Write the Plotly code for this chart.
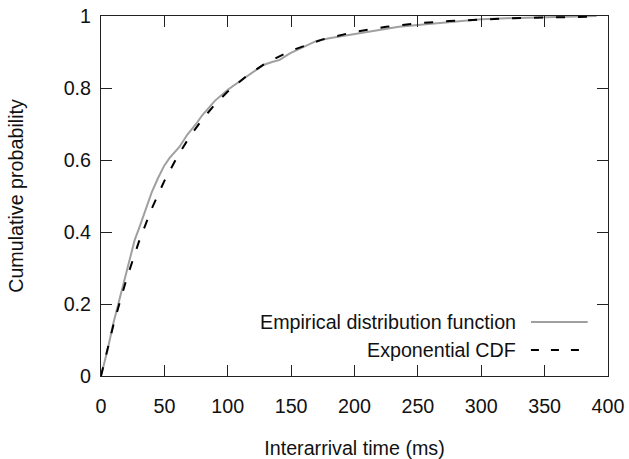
import plotly.graph_objects as go

# Empirical distribution function
emp_x = [0, 5, 10, 15, 20, 26.6, 30, 35, 40, 45, 50, 54, 58, 62, 68, 75, 80, 90,
         100, 110, 120, 128, 135, 141, 149, 160, 170, 180, 196, 202, 220, 235,
         250, 265, 283, 300, 320, 340, 360, 375, 391]
emp_y = [0, 0.07, 0.15, 0.22, 0.29, 0.378, 0.41, 0.46, 0.51, 0.55, 0.585, 0.605,
         0.62, 0.637, 0.67, 0.70, 0.725, 0.765, 0.795, 0.82, 0.845, 0.864, 0.872,
         0.878, 0.896, 0.915, 0.931, 0.938, 0.947, 0.952, 0.962, 0.970, 0.975,
         0.980, 0.985, 0.991, 0.994, 0.996, 0.998, 0.999, 1.0]

# Exponential CDF
exp_x = [0, 10, 20, 30, 40, 50, 60, 70, 80, 90, 100, 115, 130, 150, 175, 200,
         225, 250, 275, 300, 325, 350, 390]
exp_y = [0, 0.145, 0.268, 0.374, 0.465, 0.542, 0.608, 0.665, 0.713, 0.755, 0.790,
         0.834, 0.869, 0.904, 0.935, 0.956, 0.970, 0.980, 0.986, 0.991, 0.994,
         0.996, 0.998]

x_ticks = [0, 50, 100, 150, 200, 250, 300, 350, 400]
y_ticks = [0, 0.2, 0.4, 0.6, 0.8, 1]
y_tick_labels = ["0", "0.2", "0.4", "0.6", "0.8", "1"]

legend_names = ["Empirical distribution function", "Exponential CDF"]

FONT = "Liberation Sans, Arial, sans-serif"
FS = 19.7
GRAY = "#a0a0a0"
AXC = "#222"

fig = go.Figure()
fig.add_trace(go.Scatter(x=emp_x, y=emp_y, mode="lines", name=legend_names[0],
                         line=dict(color=GRAY, width=2), showlegend=False))
fig.add_trace(go.Scatter(x=exp_x, y=exp_y, mode="lines", name=legend_names[1],
                         line=dict(color="black", width=2, dash="9px,13px"),
                         showlegend=False))

axis_common = dict(showgrid=False, zeroline=False, showline=True, mirror="ticks",
                   linecolor=AXC, linewidth=1, ticks="inside", ticklen=11,
                   tickcolor=AXC, tickwidth=1, automargin=False,
                   tickfont=dict(family=FONT, size=FS, color="#111"))

fig.update_xaxes(range=[0, 400], tickvals=x_ticks, ticklabelstandoff=12,
                 title=dict(text="Interarrival time (ms)", standoff=29,
                            font=dict(family=FONT, size=FS, color="#111")),
                 **axis_common)
fig.update_yaxes(range=[0, 1], tickvals=y_ticks, ticktext=y_tick_labels,
                 ticklabelstandoff=5,
                 title=dict(text="Cumulative probability", standoff=34,
                            font=dict(family=FONT, size=FS, color="#111")),
                 **axis_common)

# Custom legend (text left of sample, gnuplot style)
leg_rows = [0.150, 0.072]
leg_styles = [dict(color=GRAY, width=2), dict(color="black", width=2, dash="8px,12px")]
for name, yy, st in zip(legend_names, leg_rows, leg_styles):
    fig.add_annotation(xref="paper", yref="paper", x=0.823, y=yy, text=name,
                       showarrow=False, xanchor="right", yanchor="middle",
                       font=dict(family=FONT, size=FS, color="#111"))
    fig.add_shape(type="line", xref="paper", yref="paper", x0=0.848, x1=0.96,
                  y0=yy, y1=yy, line=st)

fig.update_layout(width=629, height=459, plot_bgcolor="white", paper_bgcolor="white",
                  margin=dict(l=101, r=21, t=16, b=83), showlegend=False)

# remove the default 8px page margin so the figure fills the window exactly
fig.write_html("out.html", config={"displayModeBar": False},
               post_script="document.body.style.margin='0';")
